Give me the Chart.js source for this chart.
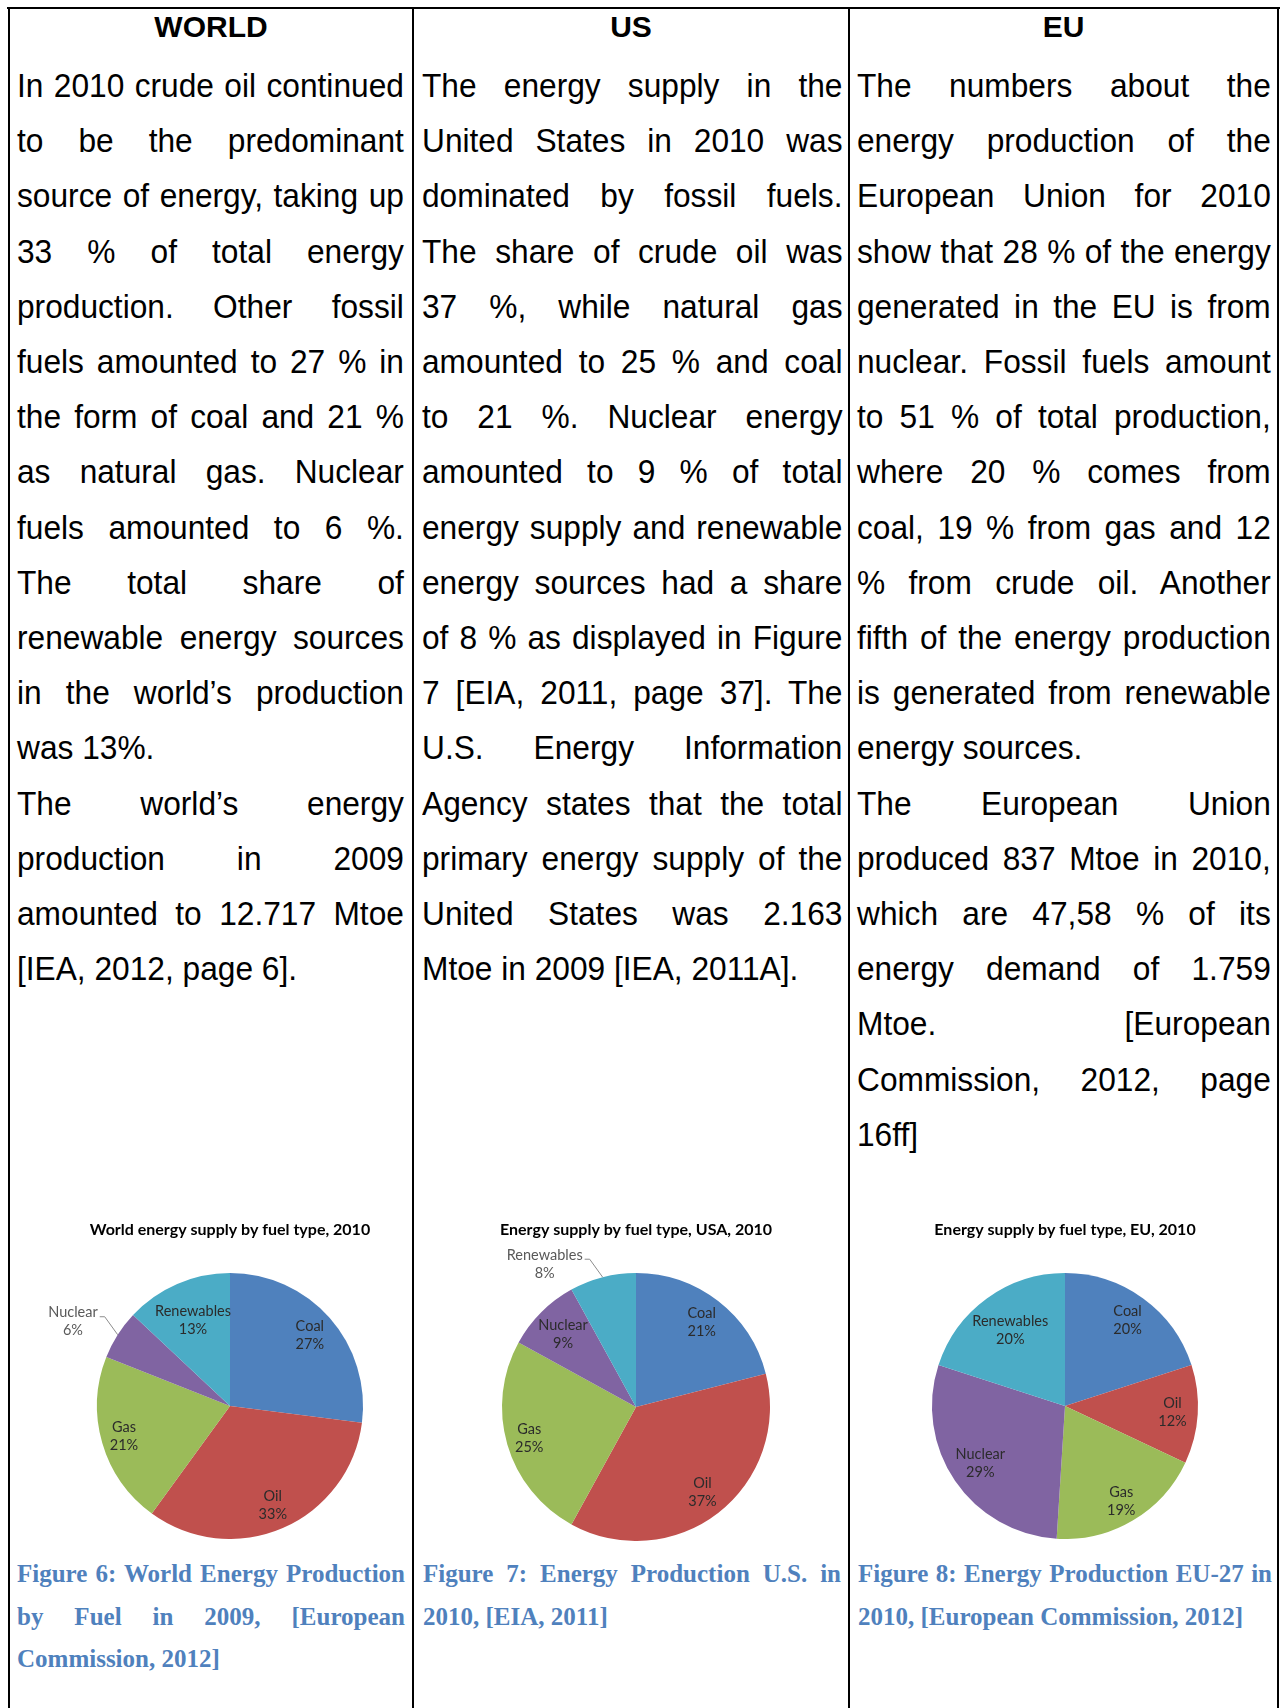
<!DOCTYPE html>
<html lang="en">
<head>
<meta charset="UTF-8">
<style>
* { margin: 0; padding: 0; box-sizing: border-box; }
body {
    width: 1281px;
    height: 1708px;
    background: #fff;
    position: relative;
    overflow: hidden;
    font-family: "Liberation Sans", Arial, sans-serif;
    color: #000;
}
.rule { position: absolute; background: #000; }
.head {
    position: absolute;
    top: 9px;
    font-weight: bold;
    font-size: 30px;
    line-height: 36px;
    text-align: center;
}
/* body text: Word-like justified lines, kept line for line */
.text {
    position: absolute;
    top: 58px;
    font-size: 33px;
    line-height: 55.2px;
    transform: scaleX(0.96);
    transform-origin: 0 0;
}
.text div, .caption div { text-align: justify; text-align-last: justify; }
.text div.end, .caption div.end { text-align: left; text-align-last: left; }
.caption {
    position: absolute;
    top: 1553px;
    font-family: "Liberation Serif", "Times New Roman", serif;
    font-weight: bold;
    font-size: 25px;
    line-height: 42.5px;
    color: #4F81BD;
}
canvas { position: absolute; top: 1205px; }
</style>
</head>
<body>

<canvas id="worldPie" width="400" height="334" style="left:30px"></canvas>
<canvas id="usPie" width="400" height="336" style="left:436px"></canvas>
<canvas id="euPie" width="400" height="334" style="left:865px"></canvas>

<!-- table lines -->
<div class="rule" style="left:7px; top:7px; width:1273px; height:2px"></div>
<div class="rule" style="left:8px; top:7px; width:2px; height:1701px"></div>
<div class="rule" style="left:412px; top:7px; width:2px; height:1701px"></div>
<div class="rule" style="left:848px; top:7px; width:2px; height:1701px"></div>
<div class="rule" style="left:1277px; top:7px; width:2px; height:1701px"></div>

<div class="head" style="left:10px; width:402px">WORLD</div>
<div class="head" style="left:414px; width:434px">US</div>
<div class="head" style="left:850px; width:427px">EU</div>

<div class="text" style="left:17px; width:403px">
    <div>In 2010 crude oil continued</div>
    <div>to be the predominant</div>
    <div>source of energy, taking up</div>
    <div>33 % of total energy</div>
    <div>production. Other fossil</div>
    <div>fuels amounted to 27 % in</div>
    <div>the form of coal and 21 %</div>
    <div>as natural gas. Nuclear</div>
    <div>fuels amounted to 6 %.</div>
    <div>The total share of</div>
    <div>renewable energy sources</div>
    <div>in the world’s production</div>
    <div class="end">was 13%.</div>
    <div>The world’s energy</div>
    <div>production in 2009</div>
    <div>amounted to 12.717 Mtoe</div>
    <div class="end">[IEA, 2012, page 6].</div>
</div>

<div class="text" style="left:422px; width:438px">
    <div>The energy supply in the</div>
    <div>United States in 2010 was</div>
    <div>dominated by fossil fuels.</div>
    <div>The share of crude oil was</div>
    <div>37 %, while natural gas</div>
    <div>amounted to 25 % and coal</div>
    <div>to 21 %. Nuclear energy</div>
    <div>amounted to 9 % of total</div>
    <div>energy supply and renewable</div>
    <div>energy sources had a share</div>
    <div>of 8 % as displayed in Figure</div>
    <div>7 [EIA, 2011, page 37]. The</div>
    <div>U.S. Energy Information</div>
    <div>Agency states that the total</div>
    <div>primary energy supply of the</div>
    <div>United States was 2.163</div>
    <div class="end">Mtoe in 2009 [IEA, 2011A].</div>
</div>

<div class="text" style="left:857px; width:431px">
    <div>The numbers about the</div>
    <div>energy production of the</div>
    <div>European Union for 2010</div>
    <div>show that 28 % of the energy</div>
    <div>generated in the EU is from</div>
    <div>nuclear. Fossil fuels amount</div>
    <div>to 51 % of total production,</div>
    <div>where 20 % comes from</div>
    <div>coal, 19 % from gas and 12</div>
    <div>% from crude oil. Another</div>
    <div>fifth of the energy production</div>
    <div>is generated from renewable</div>
    <div class="end">energy sources.</div>
    <div>The European Union</div>
    <div>produced 837 Mtoe in 2010,</div>
    <div>which are 47,58 % of its</div>
    <div>energy demand of 1.759</div>
    <div>Mtoe. [European</div>
    <div>Commission, 2012, page</div>
    <div class="end">16ff]</div>
</div>

<div class="caption" style="left:17px; width:388px">
    <div>Figure 6: World Energy Production</div>
    <div>by Fuel in 2009, [European</div>
    <div class="end">Commission, 2012]</div>
</div>
<div class="caption" style="left:423px; width:418px">
    <div>Figure 7: Energy Production U.S. in</div>
    <div class="end">2010, [EIA, 2011]</div>
</div>
<div class="caption" style="left:858px; width:414px">
    <div>Figure 8: Energy Production EU-27 in</div>
    <div class="end">2010, [European Commission, 2012]</div>
</div>

<script src="https://cdn.jsdelivr.net/npm/chart.js"></script>
<script>
const fuelTypes = ['Coal', 'Oil', 'Gas', 'Nuclear', 'Renewables'];
const worldShares = [27, 33, 21, 6, 13];
const usShares = [21, 37, 25, 9, 8];
const euShares = [20, 12, 19, 29, 20];
const fuelColors = ['#4F81BD', '#C0504D', '#9BBB59', '#8064A2', '#4BACC6'];

// how far out (share of the radius) each fuel's label sits inside its slice
const labelRadius = [0.8, 0.81, 0.83, 0.77, 0.7];

// Excel style "name / percent" labels, with a leader line for the thin slices
const sliceLabels = {
    id: 'sliceLabels',
    afterDatasetsDraw(chart, args, opts) {
        const ctx = chart.ctx;
        const meta = chart.getDatasetMeta(0);
        const names = chart.data.labels;
        const values = chart.data.datasets[0].data;
        ctx.save();
        ctx.font = '14.5px Lato';
        ctx.textAlign = 'center';
        ctx.textBaseline = 'middle';
        meta.data.forEach((arc, i) => {
            const p = arc.getProps(['x', 'y', 'startAngle', 'endAngle', 'outerRadius'], true);
            const mid = (p.startAngle + p.endAngle) / 2;
            const pct = values[i] + '%';
            if ((opts.outside || []).includes(i)) {
                const ex = p.x + Math.cos(mid) * p.outerRadius;
                const ey = p.y + Math.sin(mid) * p.outerRadius;
                const kx = ex - 13, ky = ey - 18;
                ctx.strokeStyle = '#8c8c8c';
                ctx.lineWidth = 1;
                ctx.beginPath();
                ctx.moveTo(ex, ey);
                ctx.lineTo(kx, ky);
                ctx.lineTo(kx - 5, ky);
                ctx.stroke();
                const w = ctx.measureText(names[i]).width;
                const cx = kx - 7 - w / 2;
                ctx.fillStyle = '#595959';
                ctx.fillText(names[i], cx, ky - 4);
                ctx.fillText(pct, cx, ky + 14);
            } else {
                const r = p.outerRadius * (opts.radius[i] || 0.8);
                const cx = p.x + Math.cos(mid) * r;
                const cy = p.y + Math.sin(mid) * r;
                ctx.fillStyle = '#2b2b2b';
                ctx.fillText(names[i], cx, cy - 9);
                ctx.fillText(pct, cx, cy + 9);
            }
        });
        ctx.restore();
    }
};

function makePie(id, title, shares, outside) {
    return new Chart(id, {
        type: 'pie',
        data: {
            labels: fuelTypes,
            datasets: [{
                data: shares,
                backgroundColor: fuelColors,
                borderWidth: 0,
                hoverOffset: 0
            }]
        },
        options: {
            responsive: false,
            animation: false,
            events: [],
            layout: { padding: 0 },
            plugins: {
                legend: { display: false },
                tooltip: { enabled: false },
                title: {
                    display: true,
                    text: title,
                    color: '#000',
                    font: { family: 'Lato', size: 16, weight: 'bold', lineHeight: 1.2 },
                    padding: { top: 15.4, bottom: 33.4 }
                },
                sliceLabels: { outside: outside, radius: labelRadius }
            }
        },
        plugins: [sliceLabels]
    });
}

makePie('worldPie', 'World energy supply by fuel type, 2010', worldShares, [3]);
makePie('usPie', 'Energy supply by fuel type, USA, 2010', usShares, [4]);
makePie('euPie', 'Energy supply by fuel type, EU, 2010', euShares, []);
</script>
</body>
</html>
